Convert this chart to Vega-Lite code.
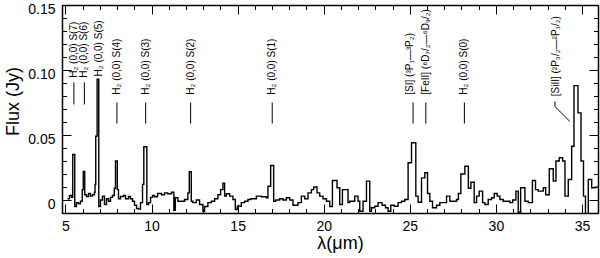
{
  "$schema": "https://vega.github.io/schema/vega-lite/v6.json",
  "width": 536,
  "height": 208,
  "autosize": {"type": "none"},
  "padding": {"left": 62, "top": 5, "right": 2, "bottom": 45},
  "background": "white",
  "config": {
    "view": {"stroke": null},
    "axis": {"labelFont": "Liberation Sans", "titleFont": "Liberation Sans", "labelColor": "black", "titleColor": "black", "domainColor": "black", "tickColor": "black", "grid": false, "titleFontWeight": "normal", "domainWidth": 1.5, "tickWidth": 1}
  },
  "datasets": {
    "spec": [
      {"w":5.116,"f":0.001},{"w":5.233,"f":0.0035},{"w":5.349,"f":0.002},{"w":5.424,"f":0.035},{"w":5.541,"f":-0.005},{"w":5.64,"f":-0.002},{"w":5.756,"f":-0.003},{"w":5.872,"f":-0.001},{"w":5.977,"f":0.008},{"w":6.035,"f":0.022},{"w":6.122,"f":0.004},{"w":6.221,"f":0.0027},{"w":6.337,"f":0.005},{"w":6.453,"f":0.003},{"w":6.57,"f":0.004},{"w":6.686,"f":0.006},{"w":6.72,"f":0.012},{"w":6.76,"f":0.049},{"w":6.84,"f":0.093},{"w":6.936,"f":-0.005},{"w":7.035,"f":0},{"w":7.151,"f":0.003},{"w":7.267,"f":-0.0035},{"w":7.384,"f":0.001},{"w":7.5,"f":-0.001},{"w":7.616,"f":0.002},{"w":7.733,"f":0.0035},{"w":7.837,"f":0.009},{"w":7.907,"f":0.03},{"w":8.012,"f":0.008},{"w":8.081,"f":0.001},{"w":8.198,"f":0.0027},{"w":8.372,"f":0.0035},{"w":8.488,"f":0.001},{"w":8.663,"f":0.0027},{"w":8.779,"f":0.001},{"w":8.895,"f":-0.001},{"w":9.012,"f":-0.004},{"w":9.128,"f":-0.0065},{"w":9.244,"f":-0.007},{"w":9.36,"f":-0.002},{"w":9.477,"f":0.012},{"w":9.552,"f":0.041},{"w":9.727,"f":-0.0035},{"w":9.826,"f":-0.002},{"w":9.942,"f":0.002},{"w":10.058,"f":0.0035},
      {"w":10.174,"f":0.0025},{"w":10.349,"f":0.005},{"w":10.581,"f":0.004},{"w":10.756,"f":0.0055},{"w":10.93,"f":0.0048},{"w":11.163,"f":0.006},{"w":11.297,"f":-0.008},{"w":11.378,"f":0.0017},{"w":11.529,"f":-0.001},{"w":11.919,"f":0.0004},{"w":12.11,"f":0.0055},{"w":12.192,"f":0.0217},{"w":12.308,"f":-0.001},{"w":12.401,"f":-0.002},{"w":12.599,"f":0},{"w":12.791,"f":-0.0035},{"w":12.983,"f":-0.0086},{"w":13.081,"f":-0.005},{"w":13.273,"f":-0.002},{"w":13.471,"f":-0.001},{"w":13.663,"f":0.001},{"w":13.855,"f":0.004},{"w":14.012,"f":0.008},{"w":14.145,"f":0.013},{"w":14.244,"f":0.003},{"w":14.343,"f":0.0048},{"w":14.535,"f":0.003},{"w":14.727,"f":0.0004},{"w":14.866,"f":-0.0073},{"w":14.983,"f":-0.0048},{"w":15.215,"f":-0.002},{"w":15.407,"f":-0.001},{"w":15.599,"f":0.0004},{"w":15.756,"f":0.001},{"w":16.087,"f":0.003},{"w":16.378,"f":0.0025},{"w":16.669,"f":0.0017},{"w":16.762,"f":0.0106},{"w":16.919,"f":0.0265},{"w":17.093,"f":-0.001},{"w":17.209,"f":0},{"w":17.442,"f":0.001},{"w":17.634,"f":0},{"w":17.831,"f":0.0017},{"w":18.023,"f":0},{"w":18.215,"f":-0.004},{"w":18.506,"f":-0.002},{"w":18.703,"f":0.003},{"w":18.895,"f":0.001},{"w":19.087,"f":0.0055},{"w":19.285,"f":0.008},{"w":19.419,"f":0.01},{"w":19.61,"f":0.0055},{"w":19.767,"f":0.003},{"w":19.959,"f":0.001},{"w":20.157,"f":-0.001},{"w":20.349,"f":-0.005},{"w":20.506,"f":0.015},{"w":20.773,"f":0.0094},{"w":20.93,"f":-0.0035},{"w":21.087,"f":0.008},{"w":21.413,"f":-0.002},{"w":21.512,"f":-0.001},{"w":21.802,"f":0.003},{"w":21.994,"f":-0.001},{"w":22.093,"f":-0.0086},{"w":22.285,"f":-0.001},{"w":22.483,"f":0.0145},{"w":22.674,"f":-0.0086},{"w":22.773,"f":-0.006},{"w":22.965,"f":-0.0048},{"w":23.157,"f":-0.002},{"w":23.39,"f":-0.004},{"w":23.587,"f":-0.006},{"w":23.738,"f":-0.0086},{"w":23.895,"f":-0.004},{"w":24.087,"f":-0.0048},{"w":24.32,"f":-0.002},{"w":24.517,"f":-0.001},{"w":24.709,"f":0.0004},{"w":24.901,"f":0.0286},{"w":25.099,"f":0.044},{"w":25.349,"f":0.003},{"w":25.483,"f":-0.0017},{"w":25.68,"f":0.017},{"w":25.872,"f":0.021},{"w":26.029,"f":0.005},{"w":26.163,"f":-0.001},{"w":26.32,"f":-0.006},{"w":26.552,"f":-0.004},{"w":26.744,"f":-0.002},{"w":27.134,"f":0.003},{"w":27.326,"f":-0.001},{"w":27.715,"f":0.0004},{"w":27.82,"f":0.005},{"w":27.965,"f":0.02},{"w":28.198,"f":0.026},{"w":28.401,"f":0.009},{"w":28.547,"f":0.0137},{"w":28.738,"f":-0.002},{"w":28.878,"f":0.003},{"w":29.029,"f":0.0068},{"w":29.227,"f":-0.002},{"w":29.36,"f":-0.0035},{"w":29.552,"f":0.0004},{"w":29.75,"f":0.0017},{"w":29.901,"f":0.005},{"w":30.076,"f":0.003},{"w":30.233,"f":0.0004},{"w":30.424,"f":-0.001},{"w":30.814,"f":-0.002},{"w":30.971,"f":0},{"w":31.163,"f":0.0068},{"w":31.297,"f":-0.0094},{"w":31.436,"f":0.0094},{"w":31.686,"f":-0.001},{"w":31.878,"f":-0.002},{"w":32.12,"f":0.015},{"w":32.3,"f":0.008},{"w":32.459,"f":0.0068},{"w":32.75,"f":0.0094},{"w":32.89,"f":0.004},{"w":33.099,"f":0.024},{"w":33.331,"f":0.0145},{"w":33.488,"f":0.03},{"w":33.68,"f":0.0325},{"w":33.878,"f":0.03},{"w":34.012,"f":0.003},{"w":34.203,"f":0.0158},{"w":34.401,"f":0.0414},{"w":34.535,"f":0.088},{"w":34.767,"f":0.067},{"w":34.942,"f":0.03},{"w":35.087,"f":0.003},{"w":35.203,"f":-0.014},{"w":35.366,"f":0.0158},{"w":35.564,"f":0.0094},{"w":35.756,"f":0.0098},{"w":35.95,"f":0.0098}
    ],
    "lines": [
      {"x":5.49,"y1":0.0735,"y2":0.0905},{"x":6.1,"y1":0.0735,"y2":0.0905},{"x":7.99,"y1":0.0588,"y2":0.075},{"x":9.66,"y1":0.0588,"y2":0.075},{"x":12.27,"y1":0.0588,"y2":0.075},{"x":17.01,"y1":0.0588,"y2":0.075},{"x":25.19,"y1":0.0588,"y2":0.075},{"x":25.93,"y1":0.0588,"y2":0.075},{"x":28.17,"y1":0.0588,"y2":0.075}
    ],
    "slant": [
      {"x":33.43,"x2":33.43,"y":0.0758,"y2":0.0719},{"x":33.43,"x2":34.3,"y":0.0719,"y2":0.0604}
    ],
    "labels": [
      {"x":5.49,"y":0.094,"t":"H₂ (0,0) S(7)"},{"x":6.1,"y":0.094,"t":"H₂ (0,0) S(6)"},{"x":6.92,"y":0.095,"t":"H₂ (0,0) S(5)"},{"x":7.99,"y":0.081,"t":"H₂ (0,0) S(4)"},{"x":9.66,"y":0.081,"t":"H₂ (0,0) S(3)"},{"x":12.27,"y":0.081,"t":"H₂ (0,0) S(2)"},{"x":17.01,"y":0.081,"t":"H₂ (0,0) S(1)"},{"x":25.0,"y":0.081,"t":"[SI] (³P₁—³P₂)"},{"x":25.93,"y":0.081,"t":"[FeII] (⁶D₇/₂—⁶D₉/₂)"},{"x":28.17,"y":0.081,"t":"H₂ (0,0) S(0)"},{"x":33.47,"y":0.0798,"t":"[SiII] (²P₃/₂—²P₁/₂)"}
    ]
  },
  "layer": [
    {
      "data": {"name": "spec"},
      "mark": {"type": "line", "interpolate": "step-after", "color": "black", "strokeWidth": 1.4, "clip": true},
      "encoding": {
        "x": {"field": "w", "type": "quantitative", "scale": {"domain": [4.8, 35.93], "nice": false, "zero": false},
          "axis": {"orient": "bottom", "values": [5,10,15,20,25,30,35], "tickSize": -9, "labelPadding": 15, "labelFontSize": 14, "title": "λ(μm)", "titleFontSize": 18, "titleX": 278, "titleY": 30, "titleBaseline": "middle"}},
        "y": {"field": "f", "type": "quantitative", "scale": {"domain": [-0.01, 0.15], "nice": false, "zero": false},
          "axis": {"orient": "left", "values": [0, 0.05, 0.1, 0.15], "tickSize": -9, "labelPadding": 16, "labelOffset": 4, "labelFontSize": 14, "labelExpr": "datum.value == 0 ? '0' : format(datum.value, '.2f')", "title": "Flux (Jy)", "titleFontSize": 18, "titleX": -49, "titleY": 96, "titleBaseline": "middle"}}
      }
    },
    {
      "data": {"name": "lines"},
      "mark": {"type": "rule", "color": "black", "strokeWidth": 1},
      "encoding": {
        "x": {"field": "x", "type": "quantitative", "scale": {"domain": [4.8, 35.93], "nice": false, "zero": false},
          "axis": {"orient": "bottom", "values": [5,6,7,8,9,10,11,12,13,14,15,16,17,18,19,20,21,22,23,24,25,26,27,28,29,30,31,32,33,34,35], "tickSize": -4.5, "labels": false, "domain": false, "title": null}},
        "y": {"field": "y1", "type": "quantitative", "scale": {"domain": [-0.01, 0.15], "nice": false, "zero": false},
          "axis": {"orient": "left", "values": [-0.01,0,0.01,0.02,0.03,0.04,0.05,0.06,0.07,0.08,0.09,0.1,0.11,0.12,0.13,0.14,0.15], "tickSize": -4.5, "labels": false, "domain": false, "title": null}},
        "y2": {"field": "y2"}
      }
    },
    {
      "data": {"name": "slant"},
      "mark": {"type": "rule", "color": "black", "strokeWidth": 1},
      "encoding": {
        "x": {"field": "x", "type": "quantitative", "scale": {"domain": [4.8, 35.93], "nice": false, "zero": false},
          "axis": {"orient": "top", "values": [5,10,15,20,25,30,35], "tickSize": -9, "labels": false, "title": null}},
        "x2": {"field": "x2"},
        "y": {"field": "y", "type": "quantitative", "scale": {"domain": [-0.01, 0.15], "nice": false, "zero": false},
          "axis": {"orient": "right", "values": [0, 0.05, 0.1, 0.15], "tickSize": -9, "labels": false, "title": null}},
        "y2": {"field": "y2"}
      }
    },
    {
      "data": {"name": "labels"},
      "mark": {"type": "text", "angle": 270, "align": "left", "baseline": "middle", "font": "Liberation Sans", "fontSize": 10, "color": "black"},
      "encoding": {
        "x": {"field": "x", "type": "quantitative", "scale": {"domain": [4.8, 35.93], "nice": false, "zero": false},
          "axis": {"orient": "top", "values": [5,6,7,8,9,10,11,12,13,14,15,16,17,18,19,20,21,22,23,24,25,26,27,28,29,30,31,32,33,34,35], "tickSize": -4.5, "labels": false, "domain": false, "title": null}},
        "y": {"field": "y", "type": "quantitative", "scale": {"domain": [-0.01, 0.15], "nice": false, "zero": false},
          "axis": {"orient": "right", "values": [-0.01,0,0.01,0.02,0.03,0.04,0.05,0.06,0.07,0.08,0.09,0.1,0.11,0.12,0.13,0.14,0.15], "tickSize": -4.5, "labels": false, "domain": false, "title": null}},
        "text": {"field": "t"}
      }
    }
  ],
  "resolve": {"axis": {"x": "independent", "y": "independent"}}
}
